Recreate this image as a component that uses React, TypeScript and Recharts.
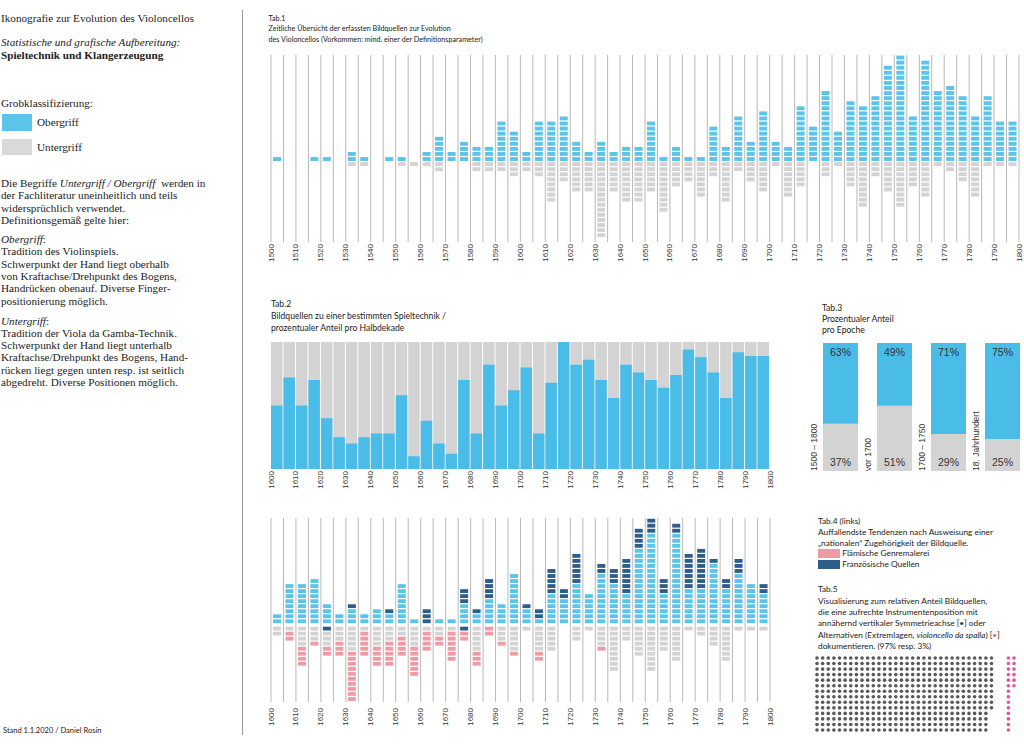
import { BarChart, Bar, XAxis, YAxis, CartesianGrid, LabelList, ScatterChart, Scatter } from 'recharts'

const HELLBLAU = '#5bc5e9'
const BLAU = '#49bde8'
const GRAU = '#d3d3d3'
const DUNKELBLAU = '#2e5d8a'
const ROSA = '#ef9ba5'
const PINK = '#e2559b'
const LINIE = '#b8b8b8'
const TEXT = '#222'

const SERIF = '"Liberation Serif", "DejaVu Serif", serif'
const SANS = 'Lato, "Open Sans", sans-serif'
const ARIAL = '"Liberation Sans", Arial, sans-serif'

// Tab.1 – Halbdekaden 1500–1795
const halbdekaden1 = [
  1500, 1505, 1510, 1515, 1520, 1525, 1530, 1535, 1540, 1545, 1550, 1555, 1560, 1565, 1570, 1575, 1580, 1585, 1590, 1595,
  1600, 1605, 1610, 1615, 1620, 1625, 1630, 1635, 1640, 1645, 1650, 1655, 1660, 1665, 1670, 1675, 1680, 1685, 1690, 1695,
  1700, 1705, 1710, 1715, 1720, 1725, 1730, 1735, 1740, 1745, 1750, 1755, 1760, 1765, 1770, 1775, 1780, 1785, 1790, 1795,
]
const raster1 = [...halbdekaden1, 1800]
const obergriff1 = [
  1, 0, 0, 1, 1, 0, 2, 1, 0, 1, 1, 0, 2, 5, 2, 4, 3, 3, 8, 6,
  2, 8, 8, 9, 4, 2, 4, 2, 3, 3, 8, 1, 3, 1, 1, 7, 3, 9, 4, 10,
  4, 3, 11, 7, 14, 6, 12, 11, 13, 19, 21, 9, 20, 14, 15, 13, 9, 13, 8, 8,
]
const untergriff1 = [
  0, 0, 0, 0, 0, 0, 1, 1, 0, 0, 1, 1, 1, 2, 0, 0, 2, 2, 2, 3,
  2, 3, 8, 4, 6, 6, 15, 6, 8, 8, 6, 10, 5, 4, 7, 3, 8, 2, 4, 6,
  1, 7, 5, 0, 3, 1, 5, 9, 3, 6, 9, 5, 7, 1, 2, 4, 7, 1, 1, 1,
]

// Tab.2 – Anteil Obergriff in %, 1600–1795
const halbdekaden2 = [
  1600, 1605, 1610, 1615, 1620, 1625, 1630, 1635, 1640, 1645, 1650, 1655, 1660, 1665, 1670, 1675, 1680, 1685, 1690, 1695,
  1700, 1705, 1710, 1715, 1720, 1725, 1730, 1735, 1740, 1745, 1750, 1755, 1760, 1765, 1770, 1775, 1780, 1785, 1790, 1795,
]
const raster2 = [...halbdekaden2, 1800]
const anteilObergriff2 = [
  50, 72, 50, 70, 40, 25, 20, 25, 28, 28, 58, 10, 38, 20, 12, 70, 28, 82, 50, 62,
  80, 28, 68, 100, 82, 86, 70, 56, 82, 76, 70, 64, 74, 94, 88, 76, 56, 92, 89, 89,
]

// Tab.3 – pro Epoche
const epochen = ['1500 – 1800', 'vor 1700', '1700 – 1750', '18. Jahrhundert']
const epocheObergriff = [63, 49, 71, 75]
const epocheUntergriff = [37, 51, 29, 25]

// Tab.4 – nationale Zugehörigkeit
const oberHell4 = [
  2, 8, 8, 9, 4, 2, 3, 2, 3, 2, 8, 1, 0, 1, 1, 4, 2, 5, 4, 10,
  3, 1, 6, 5, 8, 6, 10, 8, 6, 15, 18, 6, 18, 7, 7, 12, 7, 10, 8, 6,
]
const oberFranz4 = [
  0, 0, 0, 0, 0, 0, 1, 0, 0, 1, 0, 0, 3, 0, 0, 3, 1, 4, 0, 0,
  1, 2, 5, 2, 6, 0, 2, 3, 7, 4, 3, 3, 2, 7, 8, 1, 2, 3, 0, 2,
]
const unterFranz4 = [
  0, 0, 0, 0, 1, 0, 0, 0, 0, 0, 0, 0, 0, 0, 0, 1, 0, 0, 0, 0,
  0, 0, 0, 0, 0, 0, 0, 0, 0, 0, 0, 0, 0, 0, 0, 0, 0, 0, 0, 0,
]
const unterGrau4 = [
  2, 1, 4, 3, 3, 3, 5, 1, 4, 3, 2, 4, 1, 2, 1, 0, 5, 0, 3, 5,
  1, 5, 5, 0, 3, 1, 4, 9, 3, 6, 9, 5, 7, 1, 2, 4, 7, 1, 1, 1,
]
const unterFlaem4 = [
  0, 2, 4, 1, 2, 3, 10, 5, 4, 5, 4, 6, 4, 2, 6, 2, 3, 2, 1, 1,
  0, 2, 0, 0, 0, 0, 1, 0, 0, 0, 0, 0, 0, 0, 0, 0, 0, 0, 0, 0,
]

// Tab.5 – Punkte
const punkteSenkrecht = 444
const punkteAlternativ = 20
const punktZeilen = 14
const rosaStart = 34

function Bloecke(props: any) {
  const { x, y, width, height, fill, payload, feld, versatz = 0 } = props
  const n = Math.abs(payload?.[feld] ?? 0)
  if (!n || !height) return <g />
  const top = Math.min(y, y + height) + versatz
  const step = Math.abs(height) / n
  return (
    <g>
      {Array.from({ length: n }, (_, i) => (
        <rect key={i} x={x} y={top + i * step + 0.6} width={width} height={step - 1.2} fill={fill} />
      ))}
    </g>
  )
}

const JahrTick = ({ x, y, payload, size }: any) =>
  payload.value % 10 === 0 ? (
    <text x={x} y={y} transform={`rotate(-90 ${x} ${y})`} textAnchor="end" dominantBaseline="central"
      fontSize={size} fontFamily={ARIAL} fill="#333">{payload.value}</text>
  ) : <g />

const EpocheTick = ({ x, y, payload }: any) => (
  <text x={x - 26} y={y} transform={`rotate(-90 ${x - 26} ${y})`} textAnchor="start" dominantBaseline="central"
    fontSize={8.5} fontFamily={ARIAL} fill="#333">{payload.value}</text>
)

function Text({ left, top, size, lh, font = SANS, children, style }: any) {
  return (
    <div style={{ position: 'absolute', left, top, fontSize: size, lineHeight: `${lh}px`, fontFamily: font, whiteSpace: 'nowrap', ...style }}>
      {children}
    </div>
  )
}

export default function App() {
  const tab1 = halbdekaden1.map((j, i) => ({ mitte: j + 2.5, ober: obergriff1[i], unter: -untergriff1[i] }))
  const tab2 = halbdekaden2.map((j, i) => ({ mitte: j + 2.5, ober: anteilObergriff2[i] }))
  const tab3 = epochen.map((e, i) => ({ epoche: e, ober: epocheObergriff[i], unter: epocheUntergriff[i] }))
  const tab4 = halbdekaden2.map((j, i) => ({
    mitte: j + 2.5,
    hell: oberHell4[i],
    franzOben: oberFranz4[i],
    franzUnten: -unterFranz4[i],
    grau: -unterGrau4[i],
    flaem: -unterFlaem4[i],
  }))
  const punkte = Array.from({ length: punkteSenkrecht }, (_, i) => ({ spalte: Math.floor(i / punktZeilen), zeile: i % punktZeilen }))
  const punkteRosa = Array.from({ length: punkteAlternativ }, (_, i) => ({ spalte: rosaStart + Math.floor(i / punktZeilen), zeile: i % punktZeilen }))

  return (
    <div style={{ position: 'relative', width: 1024, height: 745, overflow: 'hidden', background: '#fff', color: TEXT }}>
      <style>{'body{margin:0}'}</style>

      {/* linke Spalte */}
      <Text left={1} top={12} size={11.2} lh={12.3} font={SERIF}>Ikonografie zur Evolution des Violoncellos</Text>
      <Text left={1} top={36} size={11.2} lh={12.7} font={SERIF}>
        <i>Statistische und grafische Aufbereitung:</i><br /><b>Spieltechnik und Klangerzeugung</b>
      </Text>
      <Text left={1} top={96.5} size={11.2} lh={12.3} font={SERIF}>Grobklassifizierung:</Text>
      <div style={{ position: 'absolute', left: 2, top: 114, width: 30, height: 17, background: HELLBLAU }} />
      <Text left={37} top={116} size={11.2} lh={12.3} font={SERIF}>Obergriff</Text>
      <div style={{ position: 'absolute', left: 2, top: 139, width: 30, height: 16, background: '#d9d9d9' }} />
      <Text left={37} top={140.5} size={11.2} lh={12.3} font={SERIF}>Untergriff</Text>
      <Text left={1} top={177.2} size={11.2} lh={12.3} font={SERIF}>
        Die Begriffe <i>Untergriff / Obergriff</i>&nbsp; werden in<br />
        der Fachliteratur uneinheitlich und teils<br />
        widersprüchlich verwendet.<br />
        Definitionsgemäß gelte hier:
      </Text>
      <Text left={1} top={233.2} size={11.2} lh={12.3} font={SERIF}>
        <i>Obergriff</i>:<br />
        Tradition des Violinspiels.<br />
        Schwerpunkt der Hand liegt oberhalb<br />
        von Kraftachse/Drehpunkt des Bogens,<br />
        Handrücken obenauf. Diverse Finger-<br />
        positionierung möglich.
      </Text>
      <Text left={1} top={314.5} size={11.2} lh={12.3} font={SERIF}>
        <i>Untergriff</i>:<br />
        Tradition der Viola da Gamba-Technik.<br />
        Schwerpunkt der Hand liegt unterhalb<br />
        Kraftachse/Drehpunkt des Bogens, Hand-<br />
        rücken liegt gegen unten resp. ist seitlich<br />
        abgedreht. Diverse Positionen möglich.
      </Text>
      <Text left={3} top={725} size={7.5} lh={12}>Stand 1.1.2020 / Daniel Rosin</Text>
      <div style={{ position: 'absolute', left: 242, top: 10, width: 1, height: 725, background: '#999' }} />

      {/* Tab.1 */}
      <Text left={268.5} top={13.6} size={7.2} lh={10.7}>
        Tab.1<br />
        Zeitliche Übersicht der erfassten Bildquellen zur Evolution<br />
        des Violoncellos (Vorkommen: mind. einer der Definitionsparameter)
      </Text>
      <div style={{ position: 'absolute', left: 263, top: 50 }}>
        <BarChart width={761} height={222} data={tab1} stackOffset="sign" margin={{ top: 5, right: 5, bottom: 0, left: 8 }}>
          <CartesianGrid vertical horizontal={false} stroke={LINIE} />
          <XAxis type="number" dataKey="mitte" domain={[1500, 1800]} ticks={raster1} interval={0} tick={<JahrTick size={8} />}
            tickSize={0} tickMargin={2} axisLine={false} tickLine={false} height={30} allowDataOverflow />
          <YAxis hide type="number" domain={[-15.85, 21]} allowDataOverflow />
          <Bar dataKey="ober" stackId="a" fill={HELLBLAU} barSize={8} isAnimationActive={false}
            shape={(p: any) => <Bloecke {...p} feld="ober" />} />
          <Bar dataKey="unter" stackId="a" fill={GRAU} barSize={8} isAnimationActive={false}
            shape={(p: any) => <Bloecke {...p} feld="unter" />} />
        </BarChart>
      </div>

      {/* Tab.2 */}
      <Text left={271} top={299.2} size={8.6} lh={11.7}>
        Tab.2<br />
        Bildquellen zu einer bestimmten Spieltechnik /<br />
        prozentualer Anteil pro Halbdekade
      </Text>
      <div style={{ position: 'absolute', left: 263, top: 337 }}>
        <BarChart width={512} height={162} data={tab2} margin={{ top: 5, right: 5, bottom: 0, left: 8 }}>
          <XAxis type="number" dataKey="mitte" domain={[1600, 1800]} ticks={raster2} interval={0} tick={<JahrTick size={8} />}
            tickSize={0} tickMargin={2} axisLine={false} tickLine={false} height={30} allowDataOverflow />
          <YAxis hide type="number" domain={[0, 100]} />
          <Bar dataKey="ober" fill={BLAU} barSize={11.5} background={{ fill: GRAU }} isAnimationActive={false} />
        </BarChart>
      </div>

      {/* Tab.3 */}
      <Text left={822} top={302.7} size={8.6} lh={11.2}>
        Tab.3<br />
        Prozentualer Anteil<br />
        pro Epoche
      </Text>
      <div style={{ position: 'absolute', left: 802.5, top: 342.7 }}>
        <BarChart width={226} height={129} data={tab3} margin={{ top: 0, right: 0, bottom: 0, left: 10 }}>
          <XAxis type="category" dataKey="epoche" interval={0} tick={<EpocheTick />} tickSize={0} tickMargin={0}
            axisLine={false} tickLine={false} height={1} />
          <YAxis hide type="number" domain={[0, 100]} />
          <Bar dataKey="unter" stackId="e" fill={GRAU} barSize={35} isAnimationActive={false}>
            <LabelList dataKey="unter" position="insideBottom" offset={5} formatter={(v: any) => `${v}%`}
              style={{ fontSize: 10.5, fontFamily: ARIAL, fill: '#333' }} />
          </Bar>
          <Bar dataKey="ober" stackId="e" fill={BLAU} barSize={35} isAnimationActive={false}>
            <LabelList dataKey="ober" position="insideTop" offset={6} formatter={(v: any) => `${v}%`}
              style={{ fontSize: 10.5, fontFamily: ARIAL, fill: '#333' }} />
          </Bar>
        </BarChart>
      </div>

      {/* Tab.4 */}
      <div style={{ position: 'absolute', left: 263, top: 513 }}>
        <BarChart width={512} height={219} data={tab4} stackOffset="sign" margin={{ top: 5, right: 5, bottom: 0, left: 8 }}>
          <CartesianGrid vertical horizontal={false} stroke={LINIE} />
          <XAxis type="number" dataKey="mitte" domain={[1600, 1800]} ticks={raster2} interval={0} tick={<JahrTick size={8} />}
            tickSize={0} tickMargin={6} axisLine={false} tickLine={false} height={30} allowDataOverflow />
          <YAxis hide type="number" domain={[-15.55, 21.03]} allowDataOverflow />
          <Bar dataKey="hell" stackId="b" fill={HELLBLAU} barSize={8} isAnimationActive={false}
            shape={(p: any) => <Bloecke {...p} feld="hell" />} />
          <Bar dataKey="franzOben" stackId="b" fill={DUNKELBLAU} barSize={8} isAnimationActive={false}
            shape={(p: any) => <Bloecke {...p} feld="franzOben" />} />
          <Bar dataKey="franzUnten" stackId="b" fill={DUNKELBLAU} barSize={8} isAnimationActive={false}
            shape={(p: any) => <Bloecke {...p} feld="franzUnten" versatz={2.3} />} />
          <Bar dataKey="grau" stackId="b" fill={GRAU} barSize={8} isAnimationActive={false}
            shape={(p: any) => <Bloecke {...p} feld="grau" versatz={2.3} />} />
          <Bar dataKey="flaem" stackId="b" fill={ROSA} barSize={8} isAnimationActive={false}
            shape={(p: any) => <Bloecke {...p} feld="flaem" versatz={2.3} />} />
        </BarChart>
      </div>

      <Text left={818} top={516.3} size={8.3} lh={10.8}>
        Tab.4 (links)<br />
        Auffallendste Tendenzen nach Ausweisung einer<br />
        „nationalen“ Zugehörigkeit der Bildquelle.
      </Text>
      <div style={{ position: 'absolute', left: 818.3, top: 549.3, width: 22, height: 8.4, background: ROSA }} />
      <Text left={842.3} top={548} size={8.3} lh={10.8}>Flämische Genremalerei</Text>
      <div style={{ position: 'absolute', left: 818.3, top: 560.2, width: 22, height: 8.4, background: DUNKELBLAU }} />
      <Text left={842.3} top={559} size={8.3} lh={10.8}>Französische Quellen</Text>

      {/* Tab.5 */}
      <Text left={818} top={584.4} size={8.3} lh={11.3}>
        Tab.5<br />
        Visualisierung zum relativen Anteil Bildquellen,<br />
        die eine aufrechte Instrumentenposition mit<br />
        annähernd vertikaler Symmetrieachse [<span style={{ color: '#333' }}>•</span>] oder<br />
        Alternativen (Extremlagen, <i>violoncello da spalla</i>) [<span style={{ color: PINK }}>•</span>]<br />
        dokumentieren. (97% resp. 3%)
      </Text>
      <div style={{ position: 'absolute', left: 813.3, top: 654.3 }}>
        <ScatterChart width={205} height={80} margin={{ top: 4, right: 4, bottom: 4, left: 4 }}>
          <XAxis hide type="number" dataKey="spalte" domain={[0, 35]} />
          <YAxis hide type="number" dataKey="zeile" domain={[0, 13]} reversed />
          <Scatter data={punkte} isAnimationActive={false}
            shape={(p: any) => <circle cx={p.cx} cy={p.cy} r={1.8} fill="#595959" />} />
          <Scatter data={punkteRosa} isAnimationActive={false}
            shape={(p: any) => <circle cx={p.cx} cy={p.cy} r={1.8} fill={PINK} />} />
        </ScatterChart>
      </div>
    </div>
  )
}
